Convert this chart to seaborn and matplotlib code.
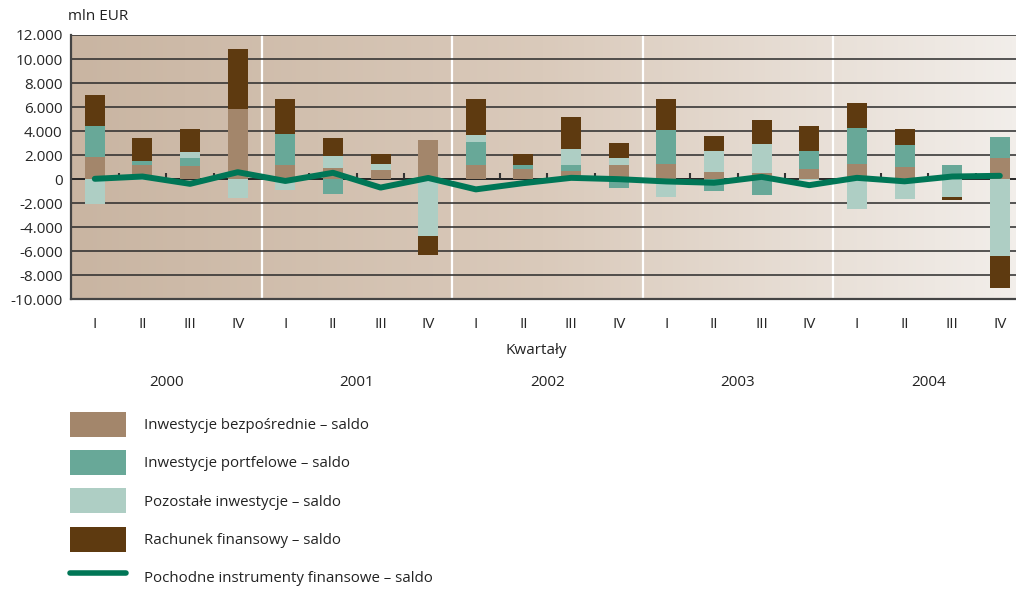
import matplotlib
matplotlib.use('Agg')
import matplotlib.pyplot as plt
import matplotlib.transforms as mtransforms
from matplotlib.patches import Patch
from matplotlib.lines import Line2D
from matplotlib.colors import LinearSegmentedColormap
import numpy as np
import pandas as pd
import seaborn as sns

# data (mln EUR), quarters 2000 I .. 2004 IV
years = ['2000', '2001', '2002', '2003', '2004']
quarters = ['I', 'II', 'III', 'IV']
direct = [1860, 1170, 1110, 5860, 1170, 940, 780, 3280, 1170, 860,
          690, 1190, 1280, 610, 530, 860, 1280, 1030, 0, 1780]
portfolio = [2580, 360, 660, 0, 2610, -1220, 0, 0, 1940, 330,
             500, -720, 2830, -970, -1310, 1500, 3000, 1830, 1190, 1750]
other = [-2030, -100, 500, -1530, -890, 1000, 500, -4720, 580, 0,
         1330, 580, -1470, 1750, 2410, -100, -2470, -1640, -1470, -6390]
financial = [2590, 1910, 1920, 5000, 2910, 1500, 830, -1580, 3000, 920,
             2660, 1250, 2580, 1250, 2000, 2080, 2080, 1330, -250, -2670]
derivatives = [30, 220, -390, 580, -150, 530, -700, 100, -850, -330,
               110, 0, -190, -300, 190, -500, 110, -180, 220, 280]

labels = ['Inwestycje bezpośrednie – saldo', 'Inwestycje portfelowe – saldo',
          'Pozostałe inwestycje – saldo', 'Rachunek finansowy – saldo',
          'Pochodne instrumenty finansowe – saldo']
colors = ['#A3866B', '#68A898', '#AECEC4', '#5E3A10']
line_color = '#007656'

cats = [y + ' ' + q for y in years for q in quarters]
df = pd.DataFrame({'cat': cats, 'direct': direct, 'portfolio': portfolio,
                   'other': other, 'financial': financial, 'deriv': derivatives})
series = ['direct', 'portfolio', 'other', 'financial']

sns.set_style('white')
plt.rcParams['font.family'] = ['Open Sans', 'DejaVu Sans']
plt.rcParams['text.color'] = '#222222'

fig = plt.figure(figsize=(10.16, 5.91), dpi=100)
ax = fig.add_axes([71 / 1016, 1 - 299.3 / 591, 1 - 71 / 1016, (299.3 - 35) / 591])

# cumulative stacks, positives upward and negatives downward
vals = df[series].to_numpy(dtype=float)
pos_cum = np.cumsum(np.clip(vals, 0, None), axis=1)
neg_cum = np.cumsum(np.clip(vals, None, 0), axis=1)

# draw tallest stack first, smaller ones over it
for k in range(len(series) - 1, -1, -1):
    for cum in (pos_cum, neg_cum):
        sns.barplot(x=df['cat'], y=cum[:, k], order=cats, color=colors[k],
                    saturation=1, width=0.42, ax=ax, zorder=2, linewidth=0)

sns.lineplot(x=np.arange(len(cats)), y=df['deriv'], color=line_color, lw=4.3,
             ax=ax, zorder=4, solid_capstyle='round', solid_joinstyle='round')

xlim = (-0.5, 19.34)
ylim = (-10000, 12000)
ax.set_xlim(*xlim)
ax.set_ylim(*ylim)

# background gradient
cmap = LinearSegmentedColormap.from_list('bg', ['#C9B5A2', '#DACABB', '#F2EEEA'])
grad = np.linspace(0, 1, 256).reshape(1, -1)
ax.imshow(grad, cmap=cmap, extent=(*xlim, *ylim), aspect='auto', zorder=0)
ax.set_xlim(*xlim)
ax.set_ylim(*ylim)

ax.set_yticks(np.arange(-10000, 12001, 2000))
ax.set_yticklabels([f'{v:,}'.replace(',', '.') for v in range(-10000, 12001, 2000)],
                   fontsize=11)
ax.yaxis.grid(True, color='#2a2a2a', lw=1.1)
ax.set_axisbelow(True)
ax.axhline(0, color='#222222', lw=1.2, zorder=1)

n = len(cats)
for b in range(1, n):
    if b % 4 == 0:
        ax.axvline(b - 0.5, color='white', lw=1.6, zorder=0.4)
    else:
        ax.vlines(b - 0.5, 0, 550, color='#333333', lw=1.5, zorder=1)

ax.set_xticks(np.arange(n))
ax.set_xticklabels(quarters * len(years), fontsize=11)
ax.tick_params(axis='x', length=0, pad=13)
ax.tick_params(axis='y', length=0, pad=6)
ax.set_xlabel('')
ax.set_ylabel('')

for s in ['top', 'right']:
    ax.spines[s].set_visible(False)
for s in ['left', 'bottom']:
    ax.spines[s].set_color('#444444')
    ax.spines[s].set_linewidth(1.6)

fig.text(68 / 1016, 1 - 17 / 591, 'mln EUR', fontsize=11, ha='left', va='center')
fig.text(536 / 1016, 1 - 350 / 591, 'Kwartały', fontsize=11, ha='center', va='center')
trans = mtransforms.blended_transform_factory(ax.transData, fig.transFigure)
for i, y in enumerate(years):
    ax.text(4 * i + 1.5, 1 - 382 / 591, y, fontsize=11, ha='center', va='center',
            transform=trans)

handles = [Patch(facecolor=c, edgecolor='none') for c in colors]
handles.append(Line2D([0], [0], color=line_color, lw=4, solid_capstyle='round'))
fig.legend(handles, labels, loc='upper left',
           bbox_to_anchor=(70 / 1016, 1 - 412 / 591), frameon=False,
           fontsize=10.8, handlelength=3.7, handleheight=2.2,
           handletextpad=1.2, labelspacing=0.87, borderpad=0, borderaxespad=0)

fig.savefig('out.png', dpi=100)
